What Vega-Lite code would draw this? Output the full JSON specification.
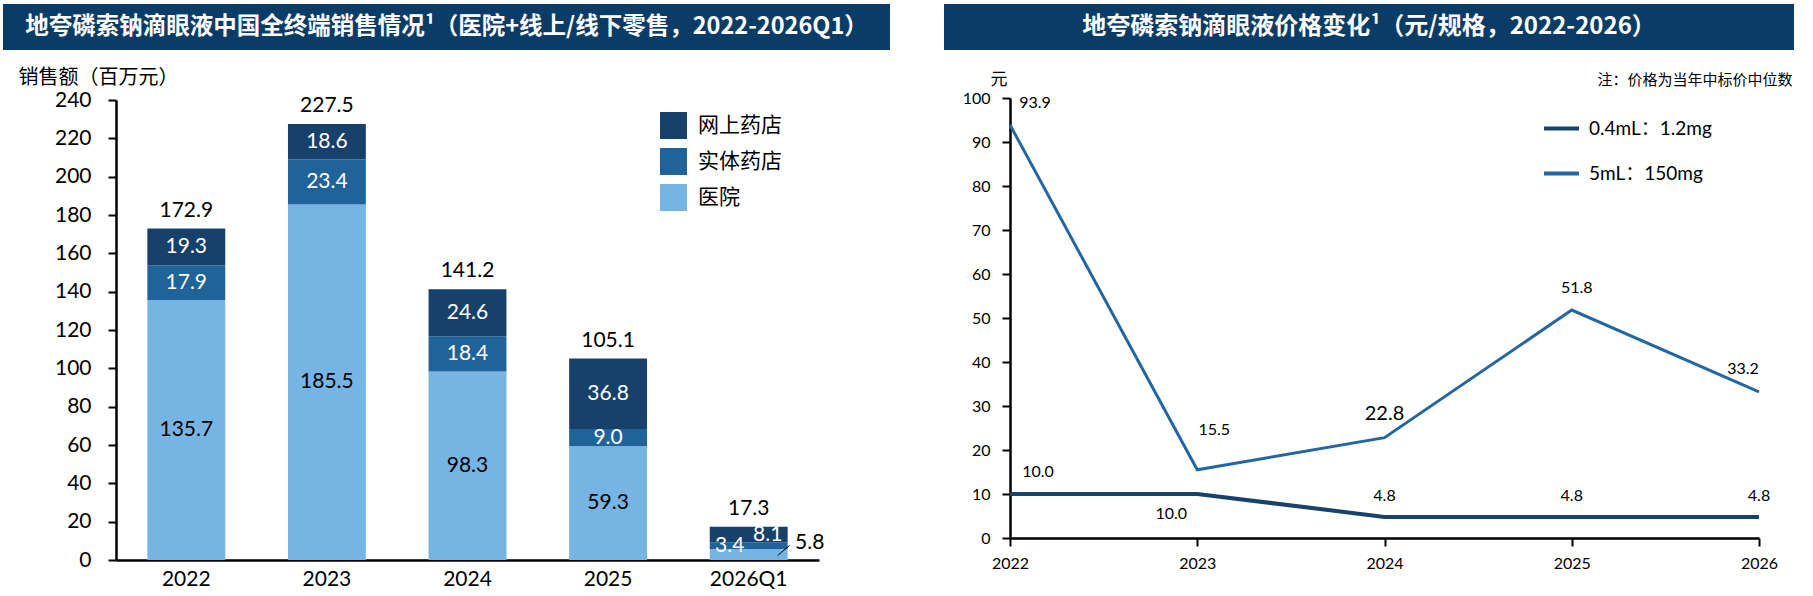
{
  "$schema": "https://vega.github.io/schema/vega-lite/v6.json",
  "padding": {"left": 3, "top": 4, "right": 0, "bottom": 0},
  "background": "white",
  "datasets": {
    "sales": [
      {"year": "2022", "channel": "医院", "value": 135.7},
      {"year": "2022", "channel": "实体药店", "value": 17.9},
      {"year": "2022", "channel": "网上药店", "value": 19.3},
      {"year": "2023", "channel": "医院", "value": 185.5},
      {"year": "2023", "channel": "实体药店", "value": 23.4},
      {"year": "2023", "channel": "网上药店", "value": 18.6},
      {"year": "2024", "channel": "医院", "value": 98.3},
      {"year": "2024", "channel": "实体药店", "value": 18.4},
      {"year": "2024", "channel": "网上药店", "value": 24.6},
      {"year": "2025", "channel": "医院", "value": 59.3},
      {"year": "2025", "channel": "实体药店", "value": 9.0},
      {"year": "2025", "channel": "网上药店", "value": 36.8},
      {"year": "2026Q1", "channel": "医院", "value": 5.8},
      {"year": "2026Q1", "channel": "实体药店", "value": 3.4},
      {"year": "2026Q1", "channel": "网上药店", "value": 8.1}
    ],
    "totals": [
      {"year": "2022", "total": 172.9},
      {"year": "2023", "total": 227.5},
      {"year": "2024", "total": 141.2},
      {"year": "2025", "total": 105.1},
      {"year": "2026Q1", "total": 17.3}
    ],
    "price": [
      {"year": "2022", "spec": "0.4mL：1.2mg", "price": 10.0},
      {"year": "2023", "spec": "0.4mL：1.2mg", "price": 10.0},
      {"year": "2024", "spec": "0.4mL：1.2mg", "price": 4.8},
      {"year": "2025", "spec": "0.4mL：1.2mg", "price": 4.8},
      {"year": "2026", "spec": "0.4mL：1.2mg", "price": 4.8},
      {"year": "2022", "spec": "5mL：150mg", "price": 93.9},
      {"year": "2023", "spec": "5mL：150mg", "price": 15.5},
      {"year": "2024", "spec": "5mL：150mg", "price": 22.8},
      {"year": "2025", "spec": "5mL：150mg", "price": 51.8},
      {"year": "2026", "spec": "5mL：150mg", "price": 33.2}
    ]
  },
  "spacing": 54,
  "resolve": {
    "scale": {"color": "independent", "strokeWidth": "independent"},
    "legend": {"color": "independent"}
  },
  "hconcat": [
    {
      "spacing": 17,
      "resolve": {"scale": {"color": "independent"}, "legend": {"color": "independent"}},
      "vconcat": [
        {
          "width": 887,
          "height": 46,
          "view": {"fill": "#0b3c66", "stroke": null},
          "data": {"values": [{"t": "地夸磷索钠滴眼液中国全终端销售情况¹（医院+线上/线下零售，2022-2026Q1）"}]},
          "mark": {"type": "text", "color": "white", "fontSize": 23.5, "fontWeight": "bold", "font": "Noto Sans CJK SC", "align": "center", "baseline": "middle"},
          "encoding": {"text": {"field": "t"}}
        },
        {
          "width": 887,
          "height": 460,
          "encoding": {
            "x": {
              "field": "year",
              "type": "nominal",
              "sort": ["2022", "2023", "2024", "2025", "2026Q1"],
              "scale": {"range": [113, 816], "paddingInner": 0.446, "paddingOuter": 0.223},
              "axis": {"title": null, "labelAngle": 0, "ticks": false, "domainWidth": 2.5, "labelFontSize": 21, "labelPadding": 8}
            }
          },
          "layer": [
            {
              "data": {"name": "sales"},
              "transform": [
                {"stack": "value", "groupby": ["year"], "sort": [{"field": "channel", "order": "ascending"}], "as": ["v0", "v1"]},
                {"calculate": "(datum.v0 + datum.v1) / 2", "as": "mid"}
              ],
              "layer": [
                {
                  "mark": {"type": "bar"},
                  "encoding": {
                    "y": {
                      "field": "v0",
                      "type": "quantitative",
                      "scale": {"domain": [0, 240]},
                      "axis": {"offset": -113, "values": [0, 20, 40, 60, 80, 100, 120, 140, 160, 180, 200, 220, 240], "labelOverlap": false, "labelSeparation": 0, "labelLineHeight": 16, "title": "销售额（百万元）", "titleAngle": 0, "titleX": -98, "titleY": -23, "titleAlign": "left", "titleBaseline": "middle", "titleFontSize": 20, "tickSize": 8, "tickWidth": 2, "domainWidth": 2.5, "labelFontSize": 21, "labelPadding": 17}
                    },
                    "y2": {"field": "v1"},
                    "color": {
                      "field": "channel",
                      "type": "nominal",
                      "scale": {"domain": ["网上药店", "实体药店", "医院"], "range": ["#17406a", "#1f6399", "#76b4e3"]},
                      "legend": {
                        "orient": "none",
                        "legendX": 657,
                        "legendY": 12,
                        "title": null,
                        "symbolType": "square",
                        "symbolSize": 729,
                        "symbolStrokeWidth": 0,
                        "symbolOpacity": 1,
                        "labelFontSize": 21,
                        "labelFont": "Noto Sans CJK SC",
                        "labelOffset": 11,
                        "rowPadding": 9
                      }
                    }
                  }
                },
                {
                  "transform": [{"filter": "datum.year != '2026Q1' && datum.channel == '医院'"}],
                  "mark": {"type": "text", "fontSize": 21, "color": "black"},
                  "encoding": {
                    "y": {"field": "mid", "type": "quantitative", "axis": {"offset": -113, "values": [0, 20, 40, 60, 80, 100, 120, 140, 160, 180, 200, 220, 240], "labelOverlap": false, "labelSeparation": 0, "labelLineHeight": 16, "title": "销售额（百万元）", "titleAngle": 0, "titleX": -98, "titleY": -23, "titleAlign": "left", "titleBaseline": "middle", "titleFontSize": 20, "tickSize": 8, "tickWidth": 2, "domainWidth": 2.5, "labelFontSize": 21, "labelPadding": 17}},
                    "text": {"field": "value", "format": ".1f"}
                  }
                },
                {
                  "transform": [{"filter": "datum.year != '2026Q1' && datum.channel != '医院'"}],
                  "mark": {"type": "text", "fontSize": 21, "color": "white"},
                  "encoding": {
                    "y": {"field": "mid", "type": "quantitative", "axis": {"offset": -113, "values": [0, 20, 40, 60, 80, 100, 120, 140, 160, 180, 200, 220, 240], "labelOverlap": false, "labelSeparation": 0, "labelLineHeight": 16, "title": "销售额（百万元）", "titleAngle": 0, "titleX": -98, "titleY": -23, "titleAlign": "left", "titleBaseline": "middle", "titleFontSize": 20, "tickSize": 8, "tickWidth": 2, "domainWidth": 2.5, "labelFontSize": 21, "labelPadding": 17}},
                    "text": {"field": "value", "format": ".1f"}
                  }
                },
                {
                  "transform": [{"filter": "datum.year == '2026Q1' && datum.channel == '实体药店'"}],
                  "mark": {"type": "text", "fontSize": 21, "color": "white", "dx": -19},
                  "encoding": {
                    "y": {"field": "mid", "type": "quantitative", "axis": {"offset": -113, "values": [0, 20, 40, 60, 80, 100, 120, 140, 160, 180, 200, 220, 240], "labelOverlap": false, "labelSeparation": 0, "labelLineHeight": 16, "title": "销售额（百万元）", "titleAngle": 0, "titleX": -98, "titleY": -23, "titleAlign": "left", "titleBaseline": "middle", "titleFontSize": 20, "tickSize": 8, "tickWidth": 2, "domainWidth": 2.5, "labelFontSize": 21, "labelPadding": 17}},
                    "text": {"field": "value", "format": ".1f"}
                  }
                },
                {
                  "transform": [{"filter": "datum.year == '2026Q1' && datum.channel == '网上药店'"}],
                  "mark": {"type": "text", "fontSize": 21, "color": "white", "dx": 19},
                  "encoding": {
                    "y": {"field": "mid", "type": "quantitative", "axis": {"offset": -113, "values": [0, 20, 40, 60, 80, 100, 120, 140, 160, 180, 200, 220, 240], "labelOverlap": false, "labelSeparation": 0, "labelLineHeight": 16, "title": "销售额（百万元）", "titleAngle": 0, "titleX": -98, "titleY": -23, "titleAlign": "left", "titleBaseline": "middle", "titleFontSize": 20, "tickSize": 8, "tickWidth": 2, "domainWidth": 2.5, "labelFontSize": 21, "labelPadding": 17}},
                    "text": {"field": "value", "format": ".1f"}
                  }
                },
                {
                  "transform": [{"filter": "datum.year == '2026Q1' && datum.channel == '医院'"}],
                  "mark": {"type": "text", "fontSize": 21, "color": "black", "dx": 61, "dy": -11},
                  "encoding": {
                    "y": {"field": "mid", "type": "quantitative", "axis": {"offset": -113, "values": [0, 20, 40, 60, 80, 100, 120, 140, 160, 180, 200, 220, 240], "labelOverlap": false, "labelSeparation": 0, "labelLineHeight": 16, "title": "销售额（百万元）", "titleAngle": 0, "titleX": -98, "titleY": -23, "titleAlign": "left", "titleBaseline": "middle", "titleFontSize": 20, "tickSize": 8, "tickWidth": 2, "domainWidth": 2.5, "labelFontSize": 21, "labelPadding": 17}},
                    "text": {"field": "value", "format": ".1f"}
                  }
                },
                {
                  "transform": [{"filter": "datum.year == '2026Q1' && datum.channel == '医院'"}],
                  "mark": {"type": "rule", "color": "black", "strokeWidth": 1, "xOffset": 29, "x2Offset": 41, "yOffset": 1, "y2Offset": -9},
                  "encoding": {
                    "x": {"field": "year", "type": "nominal", "bandPosition": 0.5},
                    "x2": {"field": "year", "bandPosition": 0.5},
                    "y": {"field": "mid", "type": "quantitative", "axis": {"offset": -113, "values": [0, 20, 40, 60, 80, 100, 120, 140, 160, 180, 200, 220, 240], "labelOverlap": false, "labelSeparation": 0, "labelLineHeight": 16, "title": "销售额（百万元）", "titleAngle": 0, "titleX": -98, "titleY": -23, "titleAlign": "left", "titleBaseline": "middle", "titleFontSize": 20, "tickSize": 8, "tickWidth": 2, "domainWidth": 2.5, "labelFontSize": 21, "labelPadding": 17}},
                    "y2": {"field": "mid"}
                  }
                }
              ]
            },
            {
              "data": {"name": "totals"},
              "mark": {"type": "text", "fontSize": 21, "color": "black", "dy": -18},
              "encoding": {
                "y": {"field": "total", "type": "quantitative", "axis": {"offset": -113, "values": [0, 20, 40, 60, 80, 100, 120, 140, 160, 180, 200, 220, 240], "labelOverlap": false, "labelSeparation": 0, "labelLineHeight": 16, "title": "销售额（百万元）", "titleAngle": 0, "titleX": -98, "titleY": -23, "titleAlign": "left", "titleBaseline": "middle", "titleFontSize": 20, "tickSize": 8, "tickWidth": 2, "domainWidth": 2.5, "labelFontSize": 21, "labelPadding": 17}},
                "text": {"field": "total", "format": ".1f"}
              }
            }
          ]
        }
      ]
    },
    {
      "spacing": 20,
      "resolve": {"scale": {"color": "independent"}, "legend": {"color": "independent"}},
      "vconcat": [
        {
          "width": 850,
          "height": 46,
          "view": {"fill": "#0b3c66", "stroke": null},
          "data": {"values": [{"t": "地夸磷索钠滴眼液价格变化¹（元/规格，2022-2026）"}]},
          "mark": {"type": "text", "color": "white", "fontSize": 24, "fontWeight": "bold", "font": "Noto Sans CJK SC", "align": "center", "baseline": "middle"},
          "encoding": {"text": {"field": "t"}}
        },
        {
          "width": 850,
          "height": 440,
          "data": {"name": "price"},
          "encoding": {
            "x": {
              "field": "year",
              "type": "ordinal",
              "scale": {"type": "point", "padding": 0, "range": [66, 815]},
              "axis": {
                "labelAngle": 0,
                "tickSize": 8,
                "tickWidth": 2,
                "domainWidth": 2.5,
                "labelFontSize": 16,
                "labelPadding": 9,
                "title": "注：价格为当年中标价中位数",
                "titleX": 848,
                "titleY": -459,
                "titleAlign": "right",
                "titleBaseline": "middle",
                "titleFontSize": 15
              }
            },
            "y": {
              "field": "price",
              "type": "quantitative",
              "scale": {"domain": [0, 100]},
              "axis": {
                "offset": -66,
                "values": [0, 10, 20, 30, 40, 50, 60, 70, 80, 90, 100],
                "labelOverlap": false,
                "title": "元",
                "titleAngle": 0,
                "titleX": -20,
                "titleY": -19,
                "titleAlign": "left",
                "titleBaseline": "middle",
                "titleFontSize": 17,
                "tickSize": 8,
                "tickWidth": 2,
                "domainWidth": 2.5,
                "labelFontSize": 16,
                "labelPadding": 12
              }
            }
          },
          "layer": [
            {
              "mark": {"type": "line"},
              "encoding": {
                "color": {
                  "field": "spec",
                  "type": "nominal",
                  "scale": {"domain": ["0.4mL：1.2mg", "5mL：150mg"], "range": ["#17436a", "#2467a0"]},
                  "legend": {
                    "orient": "none",
                    "legendX": 598,
                    "legendY": 11,
                    "title": null,
                    "symbolType": "stroke",
                    "symbolSize": 1225,
                    "symbolStrokeWidth": 4,
                    "labelFontSize": 19,
                    "labelOffset": 8,
                    "rowPadding": 15
                  }
                },
                "strokeWidth": {
                  "field": "spec",
                  "type": "nominal",
                  "scale": {"domain": ["0.4mL：1.2mg", "5mL：150mg"], "range": [4, 3]},
                  "legend": null
                }
              }
            },
            {
              "transform": [{"filter": "datum.spec == '5mL：150mg' && datum.year == '2022'"}],
              "mark": {"type": "text", "fontSize": 16, "color": "black", "dx": 25, "dy": -22},
              "encoding": {"text": {"field": "price", "format": ".1f"}}
            },
            {
              "transform": [{"filter": "datum.spec == '5mL：150mg' && datum.year == '2023'"}],
              "mark": {"type": "text", "fontSize": 16, "color": "black", "dx": 17, "dy": -40},
              "encoding": {"text": {"field": "price", "format": ".1f"}}
            },
            {
              "transform": [{"filter": "datum.spec == '5mL：150mg' && datum.year == '2024'"}],
              "mark": {"type": "text", "fontSize": 20, "color": "white", "stroke": "white", "strokeWidth": 8, "dy": -24},
              "encoding": {"text": {"field": "price", "format": ".1f"}}
            },
            {
              "transform": [{"filter": "datum.spec == '5mL：150mg' && datum.year == '2024'"}],
              "mark": {"type": "text", "fontSize": 20, "color": "black", "dy": -24},
              "encoding": {"text": {"field": "price", "format": ".1f"}}
            },
            {
              "transform": [{"filter": "datum.spec == '5mL：150mg' && datum.year == '2025'"}],
              "mark": {"type": "text", "fontSize": 16, "color": "black", "dx": 5, "dy": -22},
              "encoding": {"text": {"field": "price", "format": ".1f"}}
            },
            {
              "transform": [{"filter": "datum.spec == '5mL：150mg' && datum.year == '2026'"}],
              "mark": {"type": "text", "fontSize": 16, "color": "black", "dx": -16, "dy": -23},
              "encoding": {"text": {"field": "price", "format": ".1f"}}
            },
            {
              "transform": [{"filter": "datum.spec == '0.4mL：1.2mg' && datum.year == '2022'"}],
              "mark": {"type": "text", "fontSize": 16, "color": "black", "dx": 28, "dy": -22},
              "encoding": {"text": {"field": "price", "format": ".1f"}}
            },
            {
              "transform": [{"filter": "datum.spec == '0.4mL：1.2mg' && datum.year == '2023'"}],
              "mark": {"type": "text", "fontSize": 16, "color": "black", "dx": -26, "dy": 20},
              "encoding": {"text": {"field": "price", "format": ".1f"}}
            },
            {
              "transform": [{"filter": "datum.spec == '0.4mL：1.2mg' && datum.year >= '2024'"}],
              "mark": {"type": "text", "fontSize": 16, "color": "black", "dy": -21},
              "encoding": {"text": {"field": "price", "format": ".1f"}}
            }
          ]
        }
      ]
    }
  ],
  "config": {
    "font": "Lato, 'Noto Sans CJK SC'",
    "view": {"stroke": null},
    "axis": {
      "grid": false,
      "domainColor": "black",
      "tickColor": "black",
      "labelColor": "black",
      "titleColor": "black",
      "labelFont": "Lato, 'Noto Sans CJK SC'",
      "titleFont": "'Noto Sans CJK SC'",
      "titleFontWeight": "normal"
    },
    "axisY": {"labelOverlap": false},
    "legend": {"labelColor": "black", "labelFont": "Lato, 'Noto Sans CJK SC'"},
    "text": {"font": "Lato, 'Noto Sans CJK SC'"}
  }
}
